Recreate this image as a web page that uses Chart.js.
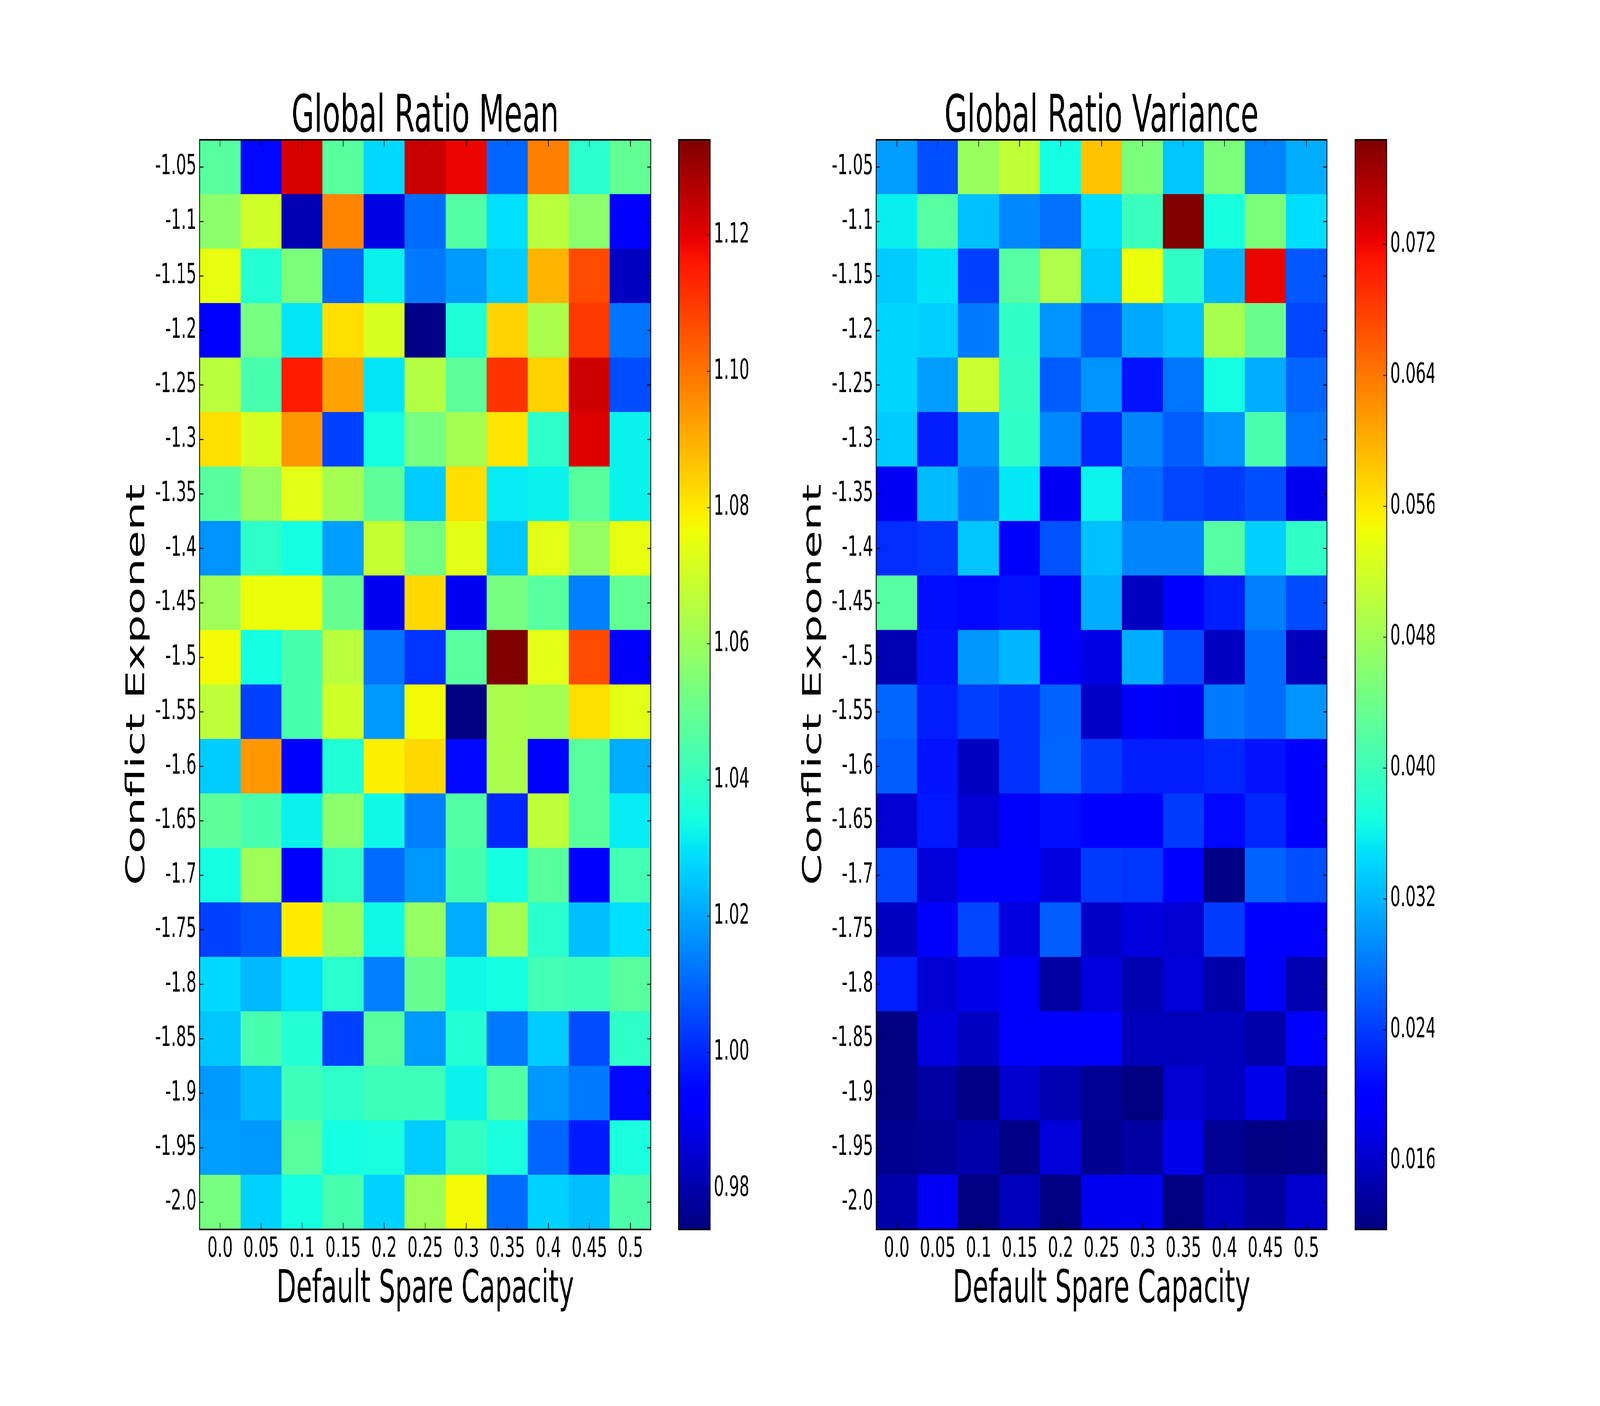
<!DOCTYPE html>
<html>
<head>
<meta charset="utf-8">
<script src="https://cdn.jsdelivr.net/npm/chart.js@4.4.1/dist/chart.umd.min.js"></script>
<style>
  html, body { margin: 0; padding: 0; width: 100%; height: 100%; overflow: hidden; background: #ffffff; }
  #wrap { position: relative; width: 100vw; height: 100vh; overflow: hidden; background: #ffffff; }
  #stage { position: absolute; left: 0; top: 0; width: 7200px; height: 3600px; transform-origin: 0 0; background: #ffffff; }
  #stage canvas { position: absolute; top: 0; }
</style>
</head>
<body>
<div id="wrap">
<div id="stage">
<canvas id="meanChart" width="2935" height="3600" style="left:0px"></canvas>
<canvas id="meanBar" width="420" height="3600" style="left:2990px"></canvas>
<canvas id="varChart" width="2935" height="3600" style="left:3045px"></canvas>
<canvas id="varBar" width="420" height="3600" style="left:6034px"></canvas>
</div>
</div>
<script>
// ---------------- DATA ----------------
const spareCapacity = ['0.0', '0.05', '0.1', '0.15', '0.2', '0.25', '0.3', '0.35', '0.4', '0.45', '0.5'];
const conflictExponents = ['-1.05', '-1.1', '-1.15', '-1.2', '-1.25', '-1.3', '-1.35', '-1.4', '-1.45', '-1.5',
                           '-1.55', '-1.6', '-1.65', '-1.7', '-1.75', '-1.8', '-1.85', '-1.9', '-1.95', '-2.0'];

// Global Ratio Mean, one row per conflict exponent (top row -1.05 first)
const meanRows = [
  [1.047, 0.995, 1.122, 1.047, 1.028, 1.124, 1.119, 1.010, 1.098, 1.038, 1.049],
  [1.057, 1.070, 0.981, 1.097, 0.988, 1.011, 1.046, 1.029, 1.066, 1.057, 0.993],
  [1.075, 1.037, 1.054, 1.010, 1.032, 1.013, 1.018, 1.026, 1.089, 1.107, 0.983],
  [0.992, 1.053, 1.030, 1.082, 1.072, 0.975, 1.036, 1.084, 1.063, 1.110, 1.012],
  [1.066, 1.044, 1.115, 1.092, 1.030, 1.065, 1.048, 1.111, 1.084, 1.123, 1.006],
  [1.082, 1.072, 1.094, 1.004, 1.034, 1.053, 1.062, 1.081, 1.039, 1.121, 1.032],
  [1.047, 1.059, 1.074, 1.062, 1.048, 1.026, 1.082, 1.031, 1.032, 1.047, 1.032],
  [1.017, 1.039, 1.034, 1.019, 1.068, 1.052, 1.074, 1.025, 1.074, 1.059, 1.075],
  [1.061, 1.076, 1.076, 1.050, 0.990, 1.083, 0.990, 1.053, 1.047, 1.014, 1.049],
  [1.077, 1.034, 1.044, 1.066, 1.012, 1.002, 1.047, 1.134, 1.074, 1.107, 0.991],
  [1.067, 1.004, 1.044, 1.070, 1.018, 1.077, 0.974, 1.063, 1.062, 1.082, 1.074],
  [1.026, 1.094, 0.993, 1.036, 1.079, 1.083, 0.995, 1.063, 0.992, 1.047, 1.021],
  [1.048, 1.044, 1.032, 1.057, 1.033, 1.014, 1.046, 1.000, 1.067, 1.047, 1.031],
  [1.034, 1.061, 0.994, 1.039, 1.011, 1.018, 1.044, 1.034, 1.047, 0.994, 1.043],
  [1.004, 1.007, 1.080, 1.060, 1.033, 1.059, 1.021, 1.062, 1.038, 1.024, 1.029],
  [1.028, 1.023, 1.029, 1.038, 1.014, 1.050, 1.033, 1.034, 1.043, 1.042, 1.047],
  [1.025, 1.044, 1.037, 1.004, 1.047, 1.018, 1.037, 1.013, 1.026, 1.006, 1.039],
  [1.018, 1.023, 1.042, 1.039, 1.042, 1.042, 1.032, 1.046, 1.018, 1.013, 0.995],
  [1.019, 1.018, 1.047, 1.034, 1.035, 1.026, 1.040, 1.035, 1.010, 0.998, 1.035],
  [1.053, 1.027, 1.034, 1.044, 1.027, 1.061, 1.077, 1.011, 1.027, 1.024, 1.045]
];

// Global Ratio Variance, one row per conflict exponent (top row -1.05 first)
const varRows = [
  [0.0304, 0.0252, 0.0475, 0.0507, 0.0367, 0.0587, 0.0451, 0.0330, 0.0451, 0.0288, 0.0314],
  [0.0357, 0.0420, 0.0327, 0.0291, 0.0275, 0.0346, 0.0397, 0.0784, 0.0370, 0.0451, 0.0346],
  [0.0334, 0.0350, 0.0243, 0.0420, 0.0492, 0.0334, 0.0541, 0.0390, 0.0320, 0.0722, 0.0258],
  [0.0340, 0.0337, 0.0281, 0.0390, 0.0298, 0.0258, 0.0311, 0.0327, 0.0488, 0.0437, 0.0246],
  [0.0340, 0.0304, 0.0513, 0.0393, 0.0262, 0.0298, 0.0213, 0.0278, 0.0367, 0.0314, 0.0268],
  [0.0334, 0.0220, 0.0300, 0.0390, 0.0291, 0.0226, 0.0288, 0.0262, 0.0298, 0.0410, 0.0278],
  [0.0186, 0.0324, 0.0281, 0.0353, 0.0186, 0.0360, 0.0271, 0.0246, 0.0239, 0.0252, 0.0183],
  [0.0230, 0.0236, 0.0330, 0.0189, 0.0255, 0.0327, 0.0288, 0.0288, 0.0420, 0.0337, 0.0390],
  [0.0420, 0.0210, 0.0206, 0.0213, 0.0189, 0.0314, 0.0157, 0.0199, 0.0220, 0.0285, 0.0250],
  [0.0149, 0.0213, 0.0300, 0.0320, 0.0189, 0.0176, 0.0314, 0.0250, 0.0157, 0.0271, 0.0152],
  [0.0268, 0.0220, 0.0243, 0.0233, 0.0265, 0.0159, 0.0189, 0.0186, 0.0281, 0.0271, 0.0298],
  [0.0262, 0.0213, 0.0157, 0.0233, 0.0268, 0.0239, 0.0220, 0.0220, 0.0226, 0.0213, 0.0195],
  [0.0166, 0.0216, 0.0166, 0.0189, 0.0210, 0.0193, 0.0193, 0.0239, 0.0205, 0.0226, 0.0200],
  [0.0246, 0.0170, 0.0195, 0.0195, 0.0173, 0.0239, 0.0236, 0.0200, 0.0121, 0.0265, 0.0252],
  [0.0157, 0.0189, 0.0246, 0.0173, 0.0262, 0.0159, 0.0173, 0.0166, 0.0239, 0.0195, 0.0195],
  [0.0220, 0.0166, 0.0179, 0.0189, 0.0138, 0.0173, 0.0146, 0.0170, 0.0141, 0.0189, 0.0146],
  [0.0118, 0.0173, 0.0157, 0.0189, 0.0193, 0.0193, 0.0152, 0.0152, 0.0154, 0.0143, 0.0200],
  [0.0120, 0.0138, 0.0121, 0.0163, 0.0146, 0.0129, 0.0118, 0.0166, 0.0154, 0.0179, 0.0138],
  [0.0127, 0.0132, 0.0143, 0.0122, 0.0170, 0.0127, 0.0138, 0.0179, 0.0129, 0.0120, 0.0122],
  [0.0143, 0.0186, 0.0120, 0.0152, 0.0120, 0.0183, 0.0183, 0.0119, 0.0152, 0.0135, 0.0163]
];

const meanColorbarTicks = [0.98, 1.00, 1.02, 1.04, 1.06, 1.08, 1.10, 1.12];
const varColorbarTicks = [0.016, 0.024, 0.032, 0.040, 0.048, 0.056, 0.064, 0.072];

// ---------------- FIT 7200x3600 STAGE TO THE WINDOW ----------------
(function fitStage() {
  const w = window.innerWidth || 7200, h = window.innerHeight || 3600;
  const sx = w / 7200, sy = h / 3600;
  if (Math.abs(sx - 1) > 0.001 || Math.abs(sy - 1) > 0.001) {
    document.getElementById('stage').style.transform = 'scale(' + sx + ',' + sy + ')';
  }
})();

// ---------------- STYLE / HELPERS ----------------
const FONT = 'DejaVu Sans';

function jet(t) {
  t = Math.max(0, Math.min(1, t));
  const seg = (pts) => {
    for (let i = 1; i < pts.length; i++) {
      if (t <= pts[i][0]) {
        const [x0, y0] = pts[i - 1], [x1, y1] = pts[i];
        return y0 + (y1 - y0) * (t - x0) / (x1 - x0);
      }
    }
    return pts[pts.length - 1][1];
  };
  const r = seg([[0, 0], [0.35, 0], [0.66, 1], [0.89, 1], [1, 0.5]]);
  const g = seg([[0, 0], [0.125, 0], [0.375, 1], [0.64, 1], [0.91, 0], [1, 0]]);
  const b = seg([[0, 0.5], [0.11, 1], [0.34, 1], [0.65, 0], [1, 0]]);
  return `rgb(${Math.round(r * 255)},${Math.round(g * 255)},${Math.round(b * 255)})`;
}

const frameTicks = {
  id: 'frameTicks',
  afterDatasetsDraw(chart, args, opts) {
    const { ctx, chartArea: a } = chart;
    ctx.save();
    ctx.strokeStyle = '#000';
    ctx.lineCap = 'butt';
    ctx.lineWidth = opts.tickWidth || 2.5;
    const L = opts.tickLength || 17;
    const line = (x1, y1, x2, y2) => { ctx.beginPath(); ctx.moveTo(x1, y1); ctx.lineTo(x2, y2); ctx.stroke(); };
    if (opts.mode === 'heatmap') {
      const xs = chart.scales.x, ys = chart.scales.y;
      xs.ticks.forEach((t, i) => {
        const p = xs.getPixelForTick(i);
        line(p, a.top, p, a.top + L);
        line(p, a.bottom, p, a.bottom - L);
      });
      ys.ticks.forEach((t, i) => {
        const p = ys.getPixelForTick(i);
        line(a.left, p, a.left + L, p);
        line(a.right, p, a.right - L, p);
      });
    } else {
      const ys = chart.scales.y;
      ys.ticks.forEach((t, i) => {
        const p = ys.getPixelForTick(i);
        line(a.right, p, a.right - L, p);
      });
    }
    ctx.lineWidth = opts.frameWidth || 4;
    ctx.strokeRect(a.left, a.top, a.right - a.left, a.bottom - a.top);
    ctx.restore();
  }
};

function makeHeatmap(id, rows, title, padRight) {
  const all = rows.flat();
  const vmin = Math.min(...all), vmax = Math.max(...all);
  const datasets = [];
  for (let k = rows.length - 1; k >= 0; k--) {
    datasets.push({
      label: conflictExponents[k],
      data: rows[k].map(() => 1),
      backgroundColor: rows[k].map(v => jet((v - vmin) / (vmax - vmin))),
      borderWidth: 0,
      barPercentage: 1,
      categoryPercentage: 1,
      inflateAmount: 0.6
    });
  }
  new Chart(document.getElementById(id), {
    type: 'bar',
    data: { labels: spareCapacity, datasets },
    plugins: [frameTicks],
    options: {
      responsive: false,
      devicePixelRatio: 1,
      animation: false,
      events: [],
      layout: { padding: { left: 0, right: padRight, top: 250, bottom: 238.5 } },
      plugins: {
        legend: { display: false },
        tooltip: { enabled: false },
        title: {
          display: true, text: title, color: '#000', fullSize: false,
          font: { family: FONT, size: 132, weight: 'normal', lineHeight: 0.8 },
          padding: { top: 0.2, bottom: 2.2 }
        },
        frameTicks: { mode: 'heatmap', tickLength: 17, tickWidth: 2.5, frameWidth: 4 }
      },
      scales: {
        x: {
          type: 'category', stacked: true,
          grid: { display: false, drawTicks: false }, border: { display: false },
          ticks: { color: '#000', font: { family: FONT, size: 72 }, padding: 8, maxRotation: 0, autoSkip: false },
          title: { display: true, text: 'Default Spare Capacity', color: '#000',
                   font: { family: FONT, size: 116, lineHeight: 1 }, padding: { top: 0, bottom: 0 } },
          afterFit: (s) => { s.height = 213.5; }
        },
        y: {
          type: 'linear', stacked: true, min: 0, max: conflictExponents.length,
          grid: { display: false, drawTicks: false }, border: { display: false },
          afterBuildTicks: (s) => { s.ticks = conflictExponents.map((_, i) => ({ value: i + 0.5 })); },
          ticks: {
            color: '#000', font: { family: FONT, size: 72 }, padding: 14, autoSkip: false,
            callback: (v) => conflictExponents[conflictExponents.length - 1 - Math.floor(v)]
          },
          title: { display: true, text: 'Conflict Exponent', color: '#000',
                   font: { family: FONT, size: 116, lineHeight: 1 }, padding: { top: 560.5, bottom: 0 } },
          afterFit: (s) => { s.width = 898; }
        }
      }
    }
  });
}

function makeColorbar(id, rows, tickVals, decimals) {
  const all = rows.flat();
  const vmin = Math.min(...all), vmax = Math.max(...all);
  new Chart(document.getElementById(id), {
    type: 'bar',
    data: {
      labels: [''],
      datasets: [{
        data: [[vmin, vmax]],
        borderWidth: 0, barPercentage: 1, categoryPercentage: 1,
        backgroundColor: (c) => {
          const a = c.chart.chartArea;
          if (!a) return 'rgb(0,0,255)';
          const g = c.chart.ctx.createLinearGradient(0, a.bottom, 0, a.top);
          for (let i = 0; i <= 100; i++) g.addColorStop(i / 100, jet(i / 100));
          return g;
        }
      }]
    },
    plugins: [frameTicks],
    options: {
      responsive: false,
      devicePixelRatio: 1,
      animation: false,
      events: [],
      layout: { padding: { left: 64, right: 0, top: 358, bottom: 452 } },
      plugins: {
        legend: { display: false },
        tooltip: { enabled: false },
        frameTicks: { mode: 'colorbar', tickLength: 15, tickWidth: 2, frameWidth: 4 }
      },
      scales: {
        x: { display: false },
        y: {
          position: 'right', min: vmin, max: vmax,
          grid: { display: false, drawTicks: false }, border: { display: false },
          afterBuildTicks: (s) => { s.ticks = tickVals.map(v => ({ value: v })); },
          ticks: { color: '#000', font: { family: FONT, size: 72 }, padding: 16,
                   callback: (v) => Number(v).toFixed(decimals) },
          afterFit: (s) => { s.width = 214; }
        }
      }
    }
  });
}

makeHeatmap('meanChart', meanRows, 'Global Ratio Mean', 6);
makeColorbar('meanBar', meanRows, meanColorbarTicks, 2);
makeHeatmap('varChart', varRows, 'Global Ratio Variance', 9);
makeColorbar('varBar', varRows, varColorbarTicks, 3);
</script>
</body>
</html>
